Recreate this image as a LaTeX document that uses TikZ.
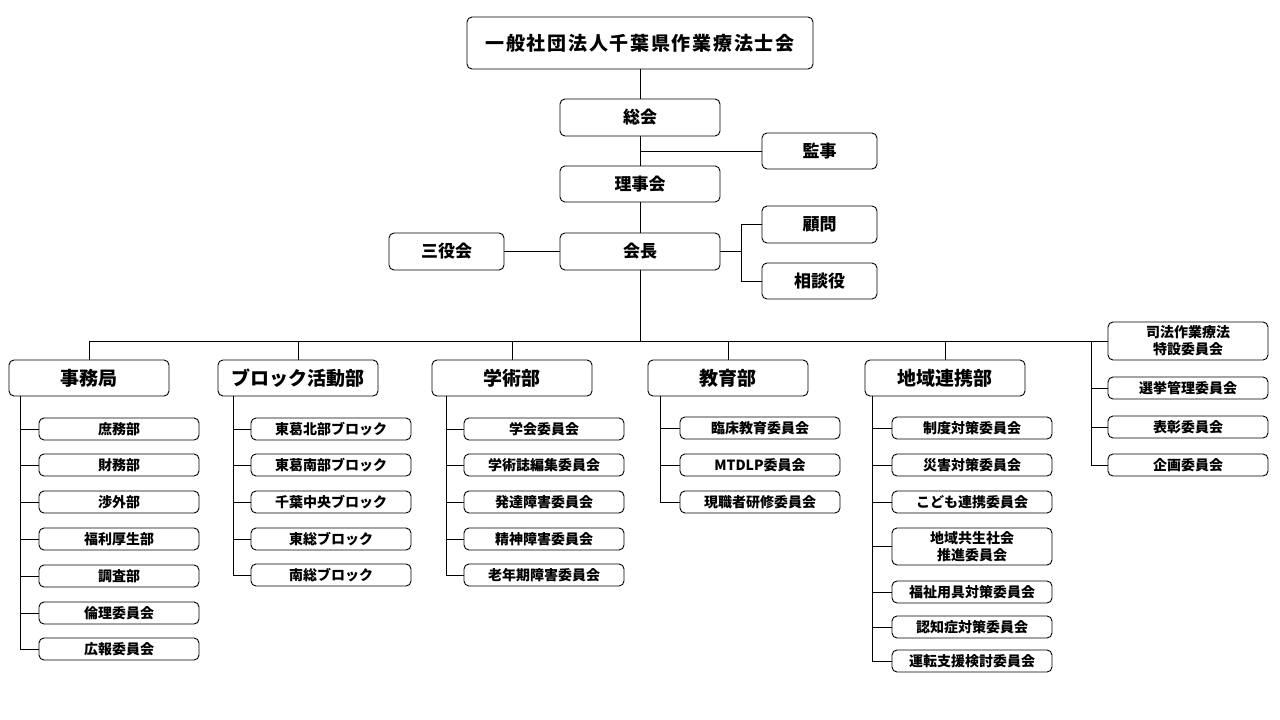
\documentclass[tikz,border=0pt]{standalone}
\usepackage{fontspec}
\setmainfont{Noto Sans CJK JP}
\usetikzlibrary{calc}
\tikzset{
  basebox/.style={draw, line width=0.9pt, rounded corners=5pt, inner sep=0pt, anchor=center, align=center, text=black},
  topbox/.style={basebox, minimum width=346pt, minimum height=52pt, font=\bfseries\fontsize{19}{22}\selectfont\addfontfeature{LetterSpace=9}},
  midbox/.style={basebox, minimum width=160pt, minimum height=37pt, font=\bfseries\fontsize{17}{20}\selectfont},
  sidebox/.style={basebox, minimum width=115pt, minimum height=37pt, font=\bfseries\fontsize{17}{20}\selectfont},
  lvbox/.style={basebox, minimum width=160pt, minimum height=36pt, font=\bfseries\fontsize{19}{22}\selectfont},
  cbox/.style={basebox, minimum width=160pt, minimum height=22pt, font=\bfseries\fontsize{14}{17}\selectfont},
  conn/.style={line width=0.9pt}
}
\begin{document}
\begin{tikzpicture}[x=1pt,y=-1pt]
\useasboundingbox (0,0) rectangle (1280,720);
% top part
\node[topbox] (title) at (640,43) {一般社団法人千葉県作業療法士会};
\node[midbox] (soukai) at (640,117.5) {総会};
\node[sidebox, minimum height=36pt] (kanji) at (819.5,151) {監事};
\node[midbox, minimum height=36pt] (rijikai) at (640,184) {理事会};
\node[midbox] (kaichou) at (640,251.5) {会長};
\node[sidebox] (sanyaku) at (446.5,251.5) {三役会};
\node[sidebox] (komon) at (819.5,224.5) {顧問};
\node[sidebox, minimum height=36pt] (soudan) at (819.5,281) {相談役};

\draw[conn] (title.south) -- (soukai.north);
\draw[conn] (soukai.south) -- (rijikai.north);
\draw[conn] (rijikai.south) -- (kaichou.north);
\draw[conn] (kanji.west) -- (kanji.west -| soukai.south);
\draw[conn] (sanyaku.east) -- (kaichou.west);
\coordinate (br) at ($(kaichou.east)+(21,0)$);
\draw[conn] (kaichou.east) -- (br);
\draw[conn] (br) |- (komon.west);
\draw[conn] (br) |- (soudan.west);

% level 2
\node[lvbox] (jimu) at (89,378) {事務局};
\node[lvbox] (block) at (298,378) {ブロック活動部};
\node[lvbox] (gaku) at (512,378) {学術部};
\node[lvbox] (kyou) at (728,378) {教育部};
\node[lvbox] (chiiki) at (945,378) {地域連携部};

% right group
\node[cbox, minimum height=38pt] (shihou) at (1188,341) {司法作業療法\\特設委員会};
\node[cbox] (senkyo) at (1188,388) {選挙管理委員会};
\node[cbox] (hyou) at (1188,427) {表彰委員会};
\node[cbox] (kikaku) at (1188,465) {企画委員会};

\coordinate (bus) at (640,341);
\draw[conn] (kaichou.south) -- (bus);
\draw[conn] (jimu.north) |- (shihou.west);
\draw[conn] (block.north) -- (block.north |- bus);
\draw[conn] (gaku.north) -- (gaku.north |- bus);
\draw[conn] (kyou.north) -- (kyou.north |- bus);
\draw[conn] (chiiki.north) -- (chiiki.north |- bus);
\coordinate (rg) at (1091,341);
\draw[conn] (rg) |- (senkyo.west);
\draw[conn] (rg) |- (hyou.west);
\draw[conn] (rg) |- (kikaku.west);

% jimu children
\node[cbox] (j1) at (119,429) {庶務部};
\node[cbox] (j2) at (119,465) {財務部};
\node[cbox] (j3) at (119,502) {渉外部};
\node[cbox] (j4) at (119,539) {福利厚生部};
\node[cbox] (j5) at (119,576) {調査部};
\node[cbox] (j6) at (119,613) {倫理委員会};
\node[cbox] (j7) at (119,649) {広報委員会};
\foreach \c in {j1,j2,j3,j4,j5,j6,j7}
  \draw[conn] ([xshift=12pt]jimu.south west) |- (\c.west);

% block children
\node[cbox] (b1) at (331,429) {東葛北部ブロック};
\node[cbox] (b2) at (331,465) {東葛南部ブロック};
\node[cbox] (b3) at (331,502) {千葉中央ブロック};
\node[cbox] (b4) at (331,539) {東総ブロック};
\node[cbox] (b5) at (331,575) {南総ブロック};
\foreach \c in {b1,b2,b3,b4,b5}
  \draw[conn] ([xshift=16pt]block.south west) |- (\c.west);

% gakujutsu children
\node[cbox] (g1) at (544,429) {学会委員会};
\node[cbox] (g2) at (544,465) {学術誌編集委員会};
\node[cbox] (g3) at (544,502) {発達障害委員会};
\node[cbox] (g4) at (544,539) {精神障害委員会};
\node[cbox] (g5) at (544,575) {老年期障害委員会};
\foreach \c in {g1,g2,g3,g4,g5}
  \draw[conn] ([xshift=15pt]gaku.south west) |- (\c.west);

% kyouiku children
\node[cbox] (k1) at (760,428) {臨床教育委員会};
\node[cbox] (k2) at (760,465) {MTDLP委員会};
\node[cbox] (k3) at (760,502) {現職者研修委員会};
\foreach \c in {k1,k2,k3}
  \draw[conn] ([xshift=13pt]kyou.south west) |- (\c.west);

% chiiki children
\node[cbox] (c1) at (972,428) {制度対策委員会};
\node[cbox] (c2) at (972,465) {災害対策委員会};
\node[cbox] (c3) at (972,502) {こども連携委員会};
\node[cbox, minimum height=37pt] (c4) at (972,546.5) {地域共生社会\\推進委員会};
\node[cbox] (c5) at (972,592) {福祉用具対策委員会};
\node[cbox] (c6) at (972,627) {認知症対策委員会};
\node[cbox] (c7) at (972,661) {運転支援検討委員会};
\foreach \c in {c1,c2,c3,c4,c5,c6,c7}
  \draw[conn] ([xshift=8pt]chiiki.south west) |- (\c.west);
\end{tikzpicture}
\end{document}
